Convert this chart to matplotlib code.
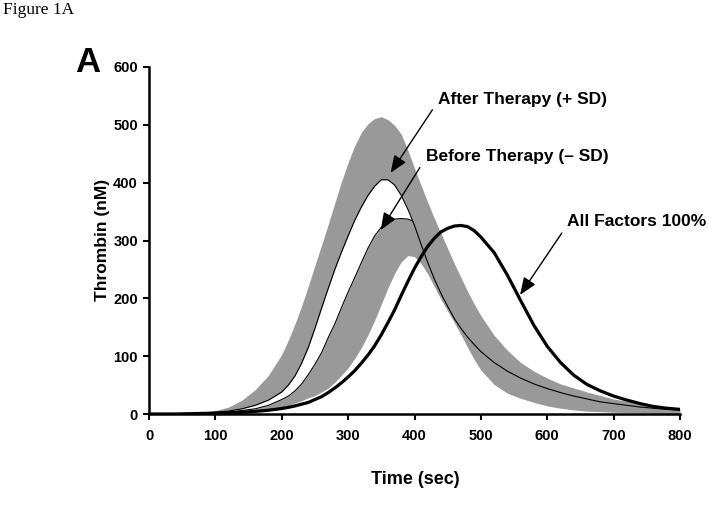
import matplotlib
matplotlib.use('Agg')
import matplotlib.pyplot as plt
import numpy as np

plt.rcParams['font.family'] = ['Liberation Sans', 'DejaVu Sans']

# time grid (sec)
time = [0, 20, 40, 60, 80, 100, 120, 140, 160, 180, 200,
        210, 220, 230, 240, 250, 260, 270, 280, 290, 300,
        310, 320, 330, 340, 350, 360, 370, 380, 390, 400,
        410, 420, 430, 440, 450, 460, 470, 480, 490, 500,
        520, 540, 560, 580, 600, 620, 640, 660, 680, 700,
        720, 740, 760, 780, 800]

# thrombin (nM)
all_factors = [0, 0, 0, 0.5, 1, 1.5, 2, 3, 4.5, 6.5, 9.5,
               11.5, 14, 17, 20, 25, 30, 37, 45, 54, 64,
               75, 88, 102, 118, 137, 158, 180, 205, 229, 252,
               272, 290, 304, 315, 321, 325, 326, 324, 317, 306,
               279, 240, 196, 153, 117, 89, 67, 51, 40, 31,
               24, 18, 13, 10, 8]

after_mean = [0, 0, 0, 0.5, 1.5, 3, 5, 9, 15, 24, 38,
              50, 66, 88, 115, 148, 183, 217, 250, 280, 308,
              335, 358, 378, 394, 405, 405, 396, 378, 354, 326,
              293, 262, 233, 208, 186, 165, 148, 133, 120, 108,
              89, 74, 62, 52, 44, 37, 31, 26, 21, 18,
              15, 12, 10, 8, 7]

after_plus_sd = [0, 0, 0.5, 1, 3, 6, 12, 24, 42, 67, 103,
                 128, 156, 187, 221, 257, 292, 328, 365, 402, 435,
                 464, 487, 502, 511, 514, 509, 499, 484, 456, 425,
                 395, 366, 338, 312, 286, 260, 236, 212, 190, 170,
                 136, 110, 89, 74, 62, 52, 45, 38, 32, 26,
                 22, 17, 14, 11, 8]

before_mean = [0, 0, 0, 0.5, 1, 2, 3.5, 6, 9, 15, 25,
               31, 40, 52, 68, 86, 106, 132, 156, 184, 211,
               236, 262, 287, 308, 323, 332, 337, 338, 337, 333,
               320, 303, 283, 262, 239, 216, 195, 176, 158, 142,
               115, 94, 77, 64, 54, 45, 38, 32, 27, 22,
               18, 15, 12, 10, 8]

before_minus_sd = [0, 0, 0, 0, 0.5, 1, 2, 3, 5, 8, 12,
                   15, 19, 23, 28, 32, 38, 45, 55, 67, 80,
                   96, 115, 137, 162, 190, 218, 243, 263, 274, 272,
                   260, 242, 220, 198, 178, 158, 137, 115, 94, 76,
                   51, 36, 27, 20, 14, 10, 7, 5, 4, 3,
                   2.5, 2, 1.5, 1, 1]

x_ticks = [0, 100, 200, 300, 400, 500, 600, 700, 800]
y_ticks = [0, 100, 200, 300, 400, 500, 600]

gray = '#999999'

fig = plt.figure(figsize=(7.14, 5.05), dpi=100)
ax = fig.add_axes([149 / 714, 1 - 414 / 505, (680 - 149) / 714, (414 - 67) / 505])

# SD bands
ax.fill_between(time, before_minus_sd, before_mean, color=gray, lw=0, zorder=1)
ax.plot(time, before_mean, color='black', lw=0.8, zorder=2)
ax.fill_between(time, after_mean, after_plus_sd, color=gray, lw=0, zorder=3)
ax.plot(time, after_mean, color='black', lw=0.8, zorder=4)
ax.plot(time, all_factors, color='black', lw=2.3, zorder=5)

ax.set_xlim(0, 800)
ax.set_ylim(0, 600)
ax.set_xticks(x_ticks)
ax.set_yticks(y_ticks)
ax.tick_params(axis='x', direction='out', length=4, width=1.5, pad=7, labelsize=10.5)
ax.tick_params(axis='y', direction='out', length=4, width=1.5, pad=4, labelsize=10.5)
for lab in ax.get_xticklabels() + ax.get_yticklabels():
    lab.set_fontweight('bold')

for s in ['top', 'right']:
    ax.spines[s].set_visible(False)
for s in ['left', 'bottom']:
    ax.spines[s].set_linewidth(1.8)
    ax.spines[s].set_zorder(6)

# arrows + labels
arr = dict(arrowstyle='-|>,head_length=0.7,head_width=0.28', color='black',
           lw=1.0, mutation_scale=15, shrinkA=0, shrinkB=0)
ax.annotate('', xy=(364, 417), xytext=(427, 526), arrowprops=arr, zorder=7)
ax.annotate('', xy=(349, 318), xytext=(408, 426), arrowprops=arr, zorder=7)
ax.annotate('', xy=(559, 206), xytext=(622, 313), arrowprops=arr, zorder=7)

ax.text(436, 543, 'After Therapy (+ SD)', fontsize=12.5, fontweight='bold', va='center')
ax.text(417, 445, 'Before Therapy (\u2013 SD)', fontsize=12.5, fontweight='bold', va='center')
ax.text(630, 332, 'All Factors 100%', fontsize=12.5, fontweight='bold', va='center')

fig.text(103 / 714, 1 - 240 / 505, 'Thrombin (nM)', rotation=90, ha='center', va='center',
         fontsize=12.5, fontweight='bold')
fig.text(415 / 714, 1 - 479 / 505, 'Time (sec)', ha='center', va='center',
         fontsize=13, fontweight='bold')
fig.text(88 / 714, 1 - 63 / 505, 'A', ha='center', va='center', fontsize=25, fontweight='bold')
fig.text(3 / 714, 1 - 10 / 505, 'Figure 1A', ha='left', va='center', fontsize=12.5,
         family='Liberation Serif')

fig.savefig('out.png', dpi=100)
